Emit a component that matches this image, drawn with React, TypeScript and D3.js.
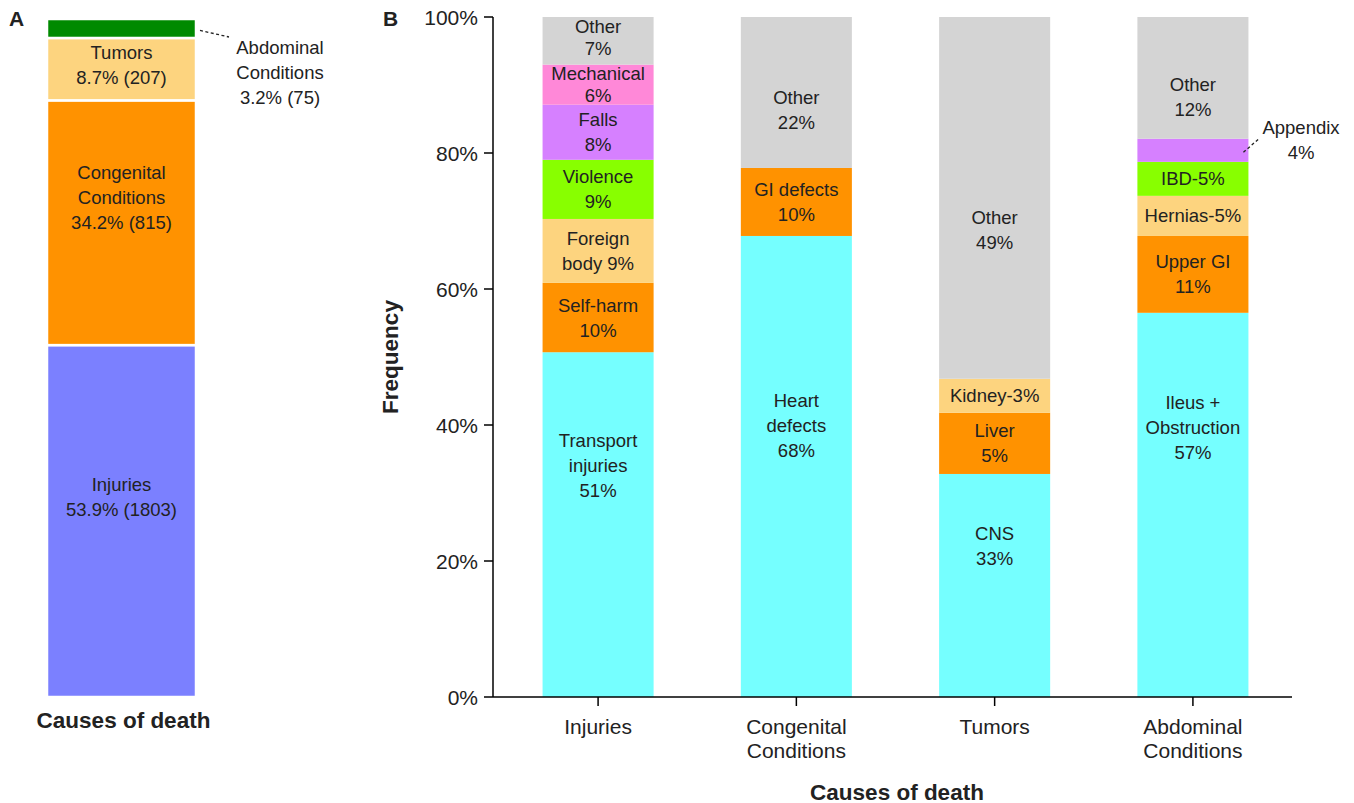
import React from "react";
import * as d3 from "d3";

// ---------- Panel A data ----------
const aCategories = ["Injuries", "Congenital Conditions", "Tumors", "Abdominal Conditions"];
const aValues = [51.9, 36.1, 9.2, 2.8]; // drawn share of bar (bottom -> top)
const aColors = ["#7B80FF", "#FF9200", "#FDD47F", "#008A00"];
const aLabels = [
  ["Injuries", "53.9% (1803)"],
  ["Congenital", "Conditions", "34.2% (815)"],
  ["Tumors", "8.7% (207)"],
  ["Abdominal", "Conditions", "3.2% (75)"],
];

// ---------- Panel B data ----------
const bCategories = ["Injuries", "Congenital Conditions", "Tumors", "Abdominal Conditions"];
const bCategoryLines = [["Injuries"], ["Congenital", "Conditions"], ["Tumors"], ["Abdominal", "Conditions"]];

const injuriesNames = ["Transport injuries", "Self-harm", "Foreign body", "Violence", "Falls", "Mechanical", "Other"];
const injuriesValues = [50.7, 10.2, 9.4, 8.7, 8.1, 5.9, 7.0];
const injuriesLabels = [["Transport", "injuries", "51%"], ["Self-harm", "10%"], ["Foreign", "body 9%"], ["Violence", "9%"], ["Falls", "8%"], ["Mechanical", "6%"], ["Other", "7%"]];
const injuriesColors = ["#75FFFF", "#FF9200", "#FDD47F", "#88FF00", "#D680FF", "#FF88D8", "#D4D4D4"];

const congenitalNames = ["Heart defects", "GI defects", "Other"];
const congenitalValues = [67.8, 10.0, 22.2];
const congenitalLabels = [["Heart", "defects", "68%"], ["GI defects", "10%"], ["Other", "22%"]];
const congenitalColors = ["#75FFFF", "#FF9200", "#D4D4D4"];

const tumorsNames = ["CNS", "Liver", "Kidney", "Other"];
const tumorsValues = [32.8, 9.0, 5.0, 53.2];
const tumorsLabels = [["CNS", "33%"], ["Liver", "5%"], ["Kidney-3%"], ["Other", "49%"]];
const tumorsColors = ["#75FFFF", "#FF9200", "#FDD47F", "#D4D4D4"];

const abdominalNames = ["Ileus + Obstruction", "Upper GI", "Hernias", "IBD", "Appendix", "Other"];
const abdominalValues = [56.5, 11.3, 5.9, 5.0, 3.4, 17.9];
const abdominalLabels = [["Ileus +", "Obstruction", "57%"], ["Upper GI", "11%"], ["Hernias-5%"], ["IBD-5%"], [], ["Other", "12%"]];
const abdominalColors = ["#75FFFF", "#FF9200", "#FDD47F", "#88FF00", "#D680FF", "#D4D4D4"];

const yTicks = [0, 20, 40, 60, 80, 100];

// label anchor overrides (in % units) for segments whose label is not centred
const aLabelAnchor: Record<string, number> = { "Injuries": 29.5, "Congenital Conditions": 73.6, "Tumors": 93.2 };
const bLabelAnchor: Record<string, number> = {
  "Transport injuries": 34.1,
  "Heart defects": 40.0,
  "CNS": 22.2,
  "Ileus + Obstruction": 39.6,
  "Injuries|Other": 97.0,
  "Congenital Conditions|Other": 86.3,
  "Tumors|Other": 68.7,
  "Abdominal Conditions|Other": 88.2,
};

const bSeries = [
  { names: injuriesNames, values: injuriesValues, labels: injuriesLabels, colors: injuriesColors },
  { names: congenitalNames, values: congenitalValues, labels: congenitalLabels, colors: congenitalColors },
  { names: tumorsNames, values: tumorsValues, labels: tumorsLabels, colors: tumorsColors },
  { names: abdominalNames, values: abdominalValues, labels: abdominalLabels, colors: abdominalColors },
];

const FONT = "'Liberation Sans', Arial, Helvetica, sans-serif";
const TEXT = "#222";
const LABEL_SIZE = 18.5;

function stack(values: number[]) {
  let acc = 0;
  return values.map((v) => {
    const s = { y0: acc, y1: acc + v };
    acc += v;
    return s;
  });
}

function MultiLine({ x, cy, lines, lh, size }: { x: number; cy: number; lines: string[]; lh: number; size: number }) {
  const n = lines.length;
  return (
    <>
      {lines.map((l, i) => (
        <text
          key={i}
          x={x}
          y={cy + (i - (n - 1) / 2) * lh}
          textAnchor="middle"
          dominantBaseline="central"
          fontFamily={FONT}
          fontSize={size}
          fill={TEXT}
        >
          {l}
        </text>
      ))}
    </>
  );
}

export default function App() {
  const W = 1354;
  const H = 803;

  // Panel A scales
  const yA = d3.scaleLinear().domain([0, 100]).range([697, 19]);
  const xA0 = 47;
  const xA1 = 196;
  const aStack = stack(aValues);

  // Panel B scales
  const y = d3.scaleLinear().domain([0, 100]).range([697, 17]);
  const x = d3.scaleBand<string>().domain(bCategories).range([493, 1298]).paddingInner(0.44).paddingOuter(0.25);
  const bw = x.bandwidth();

  return (
    <svg width={W} height={H} style={{ position: "absolute", left: 0, top: 0, background: "#fff" }}>
      {/* Panel letters */}
      <text x={9} y={25.5} fontFamily={FONT} fontWeight="bold" fontSize={21} fill={TEXT}>A</text>
      <text x={383} y={25.5} fontFamily={FONT} fontWeight="bold" fontSize={21} fill={TEXT}>B</text>

      {/* ---------- Panel A ---------- */}
      {aCategories.map((c, i) => (
        <rect
          key={c}
          x={xA0}
          y={yA(aStack[i].y1)}
          width={xA1 - xA0}
          height={yA(aStack[i].y0) - yA(aStack[i].y1)}
          fill={aColors[i]}
          stroke="#fff"
          strokeWidth={2.5}
        />
      ))}
      {aCategories.map((c, i) => {
        if (c === "Abdominal Conditions") return null;
        const anchor = aLabelAnchor[c] ?? (aStack[i].y0 + aStack[i].y1) / 2;
        return <MultiLine key={c} x={(xA0 + xA1) / 2} cy={yA(anchor)} lines={aLabels[i]} lh={25} size={LABEL_SIZE} />;
      })}
      {/* Abdominal callout */}
      <line
        x1={xA1 + 4}
        y1={yA(aStack[3].y0 + aValues[3] * 0.4)}
        x2={229}
        y2={37}
        stroke={TEXT}
        strokeWidth={1.3}
        strokeDasharray="3,2.5"
      />
      <MultiLine x={280} cy={72} lines={aLabels[3]} lh={25} size={LABEL_SIZE} />
      <text x={(xA0 + xA1) / 2 + 2} y={720} textAnchor="middle" dominantBaseline="central" fontFamily={FONT} fontWeight="bold" fontSize={22.5} fill={TEXT}>
        Causes of death
      </text>

      {/* ---------- Panel B ---------- */}
      {bSeries.map((s, ci) => {
        const cat = bCategories[ci];
        const st = stack(s.values);
        const x0 = x(cat)!;
        return (
          <g key={cat}>
            {s.values.map((v, i) => (
              <rect key={i} x={x0} y={y(st[i].y1)} width={bw} height={y(st[i].y0) - y(st[i].y1)} fill={s.colors[i]} />
            ))}
            {s.values.map((v, i) => {
              const lines = s.labels[i];
              if (!lines.length) return null;
              const key1 = s.names[i];
              const key2 = cat + "|" + s.names[i];
              const anchor = bLabelAnchor[key2] ?? bLabelAnchor[key1] ?? (st[i].y0 + st[i].y1) / 2;
              const segH = y(st[i].y0) - y(st[i].y1);
              const lh = segH < 50 ? 22 : 25;
              return <MultiLine key={"l" + i} x={x0 + bw / 2} cy={y(anchor)} lines={lines} lh={lh} size={LABEL_SIZE} />;
            })}
          </g>
        );
      })}

      {/* Appendix callout */}
      {(() => {
        const cat = "Abdominal Conditions";
        const st = stack(abdominalValues);
        const idx = abdominalNames.indexOf("Appendix");
        const x0 = x(cat)! + bw;
        const ym = y((st[idx].y0 + st[idx].y1) / 2);
        return (
          <g>
            <line x1={x0 - 5} y1={ym + 2} x2={x0 + 11} y2={ym - 12} stroke={TEXT} strokeWidth={1.3} strokeDasharray="3,2.5" />
            <MultiLine x={1301} cy={140} lines={["Appendix", "4%"]} lh={25} size={LABEL_SIZE} />
          </g>
        );
      })()}

      {/* Y axis */}
      <line x1={493} y1={y(100)} x2={493} y2={y(0)} stroke="#000" strokeWidth={1.5} />
      {yTicks.map((t) => (
        <g key={t}>
          <line x1={484} x2={493} y1={y(t)} y2={y(t)} stroke="#000" strokeWidth={1.5} />
          <text x={478} y={y(t)} textAnchor="end" dominantBaseline="central" fontFamily={FONT} fontSize={21} fill={TEXT}>
            {t}%
          </text>
        </g>
      ))}
      <text
        transform={`translate(390, ${y(50)}) rotate(-90)`}
        textAnchor="middle"
        dominantBaseline="central"
        fontFamily={FONT}
        fontWeight="bold"
        fontSize={22.5}
        fill={TEXT}
      >
        Frequency
      </text>

      {/* X axis */}
      <line x1={493} y1={y(0)} x2={1292} y2={y(0)} stroke="#000" strokeWidth={1.5} />
      {bCategories.map((c, i) => {
        const cx = x(c)! + bw / 2;
        return (
          <g key={c}>
            <line x1={cx} x2={cx} y1={y(0)} y2={y(0) + 9} stroke="#000" strokeWidth={1.5} />
            {bCategoryLines[i].map((l, j) => (
              <text key={j} x={cx} y={726 + j * 24} textAnchor="middle" dominantBaseline="central" fontFamily={FONT} fontSize={21} fill={TEXT}>
                {l}
              </text>
            ))}
          </g>
        );
      })}
      <text x={897} y={792} textAnchor="middle" dominantBaseline="central" fontFamily={FONT} fontWeight="bold" fontSize={22.5} fill={TEXT}>
        Causes of death
      </text>
    </svg>
  );
}
